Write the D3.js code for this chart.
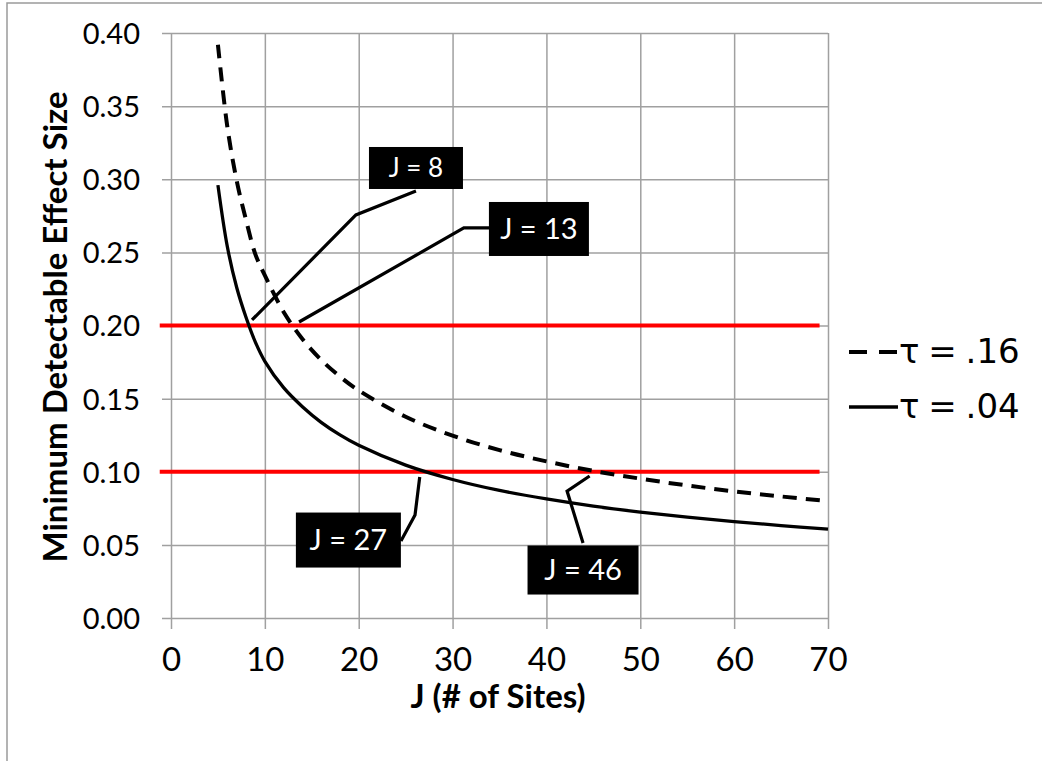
<!DOCTYPE html>
<html>
<head>
<meta charset="utf-8">
<script src="https://cdn.jsdelivr.net/npm/d3@7"></script>
<style>
  body { margin: 0; background: #fff; }
  svg { display: block; }
</style>
</head>
<body>
<div id="chart"></div>
<script>
// J values (number of sites) where the curves were read
var sites = [5, 6, 7, 8, 9, 10, 12, 14, 16, 18, 20, 25, 30, 35, 40, 45, 50, 55, 60, 65, 70];
// tau = .16 (dashed)
var mdesHigh = [0.392, 0.336, 0.299, 0.272, 0.2485, 0.2343, 0.2093, 0.1908, 0.1765, 0.1651, 0.1556, 0.1376, 0.1247, 0.1148, 0.1071, 0.1006, 0.0953, 0.0906, 0.0866, 0.0831, 0.0800];
// tau = .04 (solid)
var mdesLow = [0.296, 0.254, 0.226, 0.2055, 0.1885, 0.1755, 0.1575, 0.1445, 0.1338, 0.1252, 0.1181, 0.1045, 0.0947, 0.0872, 0.0814, 0.0765, 0.0724, 0.0689, 0.0659, 0.0632, 0.0608];

var seriesNames = ["\u03c4 = .16", "\u03c4 = .04"];
var xTicks = [0, 10, 20, 30, 40, 50, 60, 70];
var yTicks = [0, 0.05, 0.10, 0.15, 0.20, 0.25, 0.30, 0.35, 0.40];
var targetLines = [0.20, 0.10];
var calloutLabels = ["J = 8", "J = 13", "J = 27", "J = 46"];

var width = 1042, height = 761;
var plot = {left: 171, right: 828, top: 33, bottom: 618};

var svg = d3.select("#chart").append("svg")
  .attr("width", width)
  .attr("height", height);

//page frame (top and left edge of the cropped figure)
svg.append("path")
  .attr("d", "M7,761 L7,3 L1042,3")
  .attr("fill", "none")
  .attr("stroke", "#9a9a9a")
  .attr("stroke-width", 1.5);

var x = d3.scaleLinear().domain([0, 70]).range([plot.left, plot.right]);
var y = d3.scaleLinear().domain([0, 0.40]).range([plot.bottom, plot.top]);

//gridlines double as the outside tick marks
var yAxis = svg.append("g")
  .attr("transform", "translate(" + plot.right + ",0)")
  .call(d3.axisLeft(y).tickValues(yTicks).tickSize(plot.right - plot.left + 9).tickFormat(d3.format(".2f")).tickPadding(22));
var xAxis = svg.append("g")
  .attr("transform", "translate(0," + plot.top + ")")
  .call(d3.axisBottom(x).tickValues(xTicks).tickSize(plot.bottom - plot.top + 11).tickFormat(d3.format("d")).tickPadding(22));

[xAxis, yAxis].forEach(function(a){
  a.select(".domain").remove();
  a.selectAll("line").attr("stroke", "#a0a0a0").attr("stroke-width", 1.5);
  a.selectAll("text")
    .attr("fill", "#000")
    .style("font-family", "Lato, sans-serif");
});
yAxis.selectAll("text").attr("dy", "0.36em").style("font-size", "29px");
xAxis.selectAll("text").attr("dy", "0.62em").style("font-size", "33px");

//red reference lines
svg.selectAll(".target")
  .data(targetLines)
  .enter().append("line")
  .attr("class", "target")
  .attr("x1", x(-1.2))
  .attr("x2", x(69.1))
  .attr("y1", function(d){ return y(d); })
  .attr("y2", function(d){ return y(d); })
  .attr("stroke", "#ff0000")
  .attr("stroke-width", 4);

var line = d3.line()
  .x(function(d){ return x(d[0]); })
  .y(function(d){ return y(d[1]); })
  .curve(d3.curveCatmullRom.alpha(0.5));

svg.append("path")
  .datum(d3.zip(sites, mdesHigh))
  .attr("fill", "none")
  .attr("stroke", "#000")
  .attr("stroke-width", 4)
  .attr("stroke-dasharray", "14,9")
  .attr("d", line);

svg.append("path")
  .datum(d3.zip(sites, mdesLow))
  .attr("fill", "none")
  .attr("stroke", "#000")
  .attr("stroke-width", 3.3)
  .attr("d", line);

//callouts: box centre and leader in data units, box size in px
var callouts = [
  {cx: 26.1, cy: 0.3077, w: 94, h: 42, fs: 26, leader: [[26.1, 0.292], [19.7, 0.2756], [8.63, 0.2038]]},
  {cx: 39.2, cy: 0.266, w: 100, h: 54, fs: 29, leader: [[33.9, 0.2667], [31.2, 0.2667], [13.64, 0.2024]]},
  {cx: 18.9, cy: 0.0533, w: 105, h: 55, fs: 29, leader: [[24.5, 0.0527], [26.0, 0.0704], [26.5, 0.0964]]},
  {cx: 43.9, cy: 0.0328, w: 111, h: 49, fs: 29, leader: [[43.9, 0.0513], [42.2, 0.0868], [44.6, 0.0971]]}
];

var leaderLine = d3.line()
  .x(function(d){ return x(d[0]); })
  .y(function(d){ return y(d[1]); });

callouts.forEach(function(c, i){
  svg.append("path")
    .attr("d", leaderLine(c.leader))
    .attr("fill", "none")
    .attr("stroke", "#000")
    .attr("stroke-width", 3.2);
  svg.append("rect")
    .attr("x", x(c.cx) - c.w / 2)
    .attr("y", y(c.cy) - c.h / 2)
    .attr("width", c.w)
    .attr("height", c.h)
    .attr("fill", "#000");
  svg.append("text")
    .attr("x", x(c.cx))
    .attr("y", y(c.cy))
    .attr("dy", "0.36em")
    .attr("text-anchor", "middle")
    .attr("fill", "#fff")
    .style("font-family", "Lato, sans-serif")
    .style("font-size", c.fs + "px")
    .text(calloutLabels[i]);
});

//axis titles
svg.append("text")
  .attr("x", 498)
  .attr("y", 708)
  .attr("text-anchor", "middle")
  .style("font-family", "Lato, sans-serif")
  .style("font-weight", "bold")
  .style("font-size", "33px")
  .text("J (# of Sites)");

svg.append("text")
  .attr("transform", "translate(67,327) rotate(-90)")
  .attr("text-anchor", "middle")
  .style("font-family", "Lato, sans-serif")
  .style("font-weight", "bold")
  .style("font-size", "33px")
  .text("Minimum Detectable Effect Size");

//legend
var legend = svg.append("g");
var legendRows = [{y: 352, dash: "18,12", sw: 4}, {y: 407, dash: null, sw: 3.3}];
legendRows.forEach(function(r, i){
  legend.append("line")
    .attr("x1", 849).attr("x2", 898)
    .attr("y1", r.y).attr("y2", r.y)
    .attr("stroke", "#000")
    .attr("stroke-width", r.sw)
    .attr("stroke-dasharray", r.dash);
  legend.append("text")
    .attr("x", 899)
    .attr("y", r.y + 11)
    .style("font-family", "'DejaVu Sans', sans-serif")
    .style("font-size", "34px")
    .style("word-spacing", "-2px")
    .text(seriesNames[i]);
});
</script>
</body>
</html>
